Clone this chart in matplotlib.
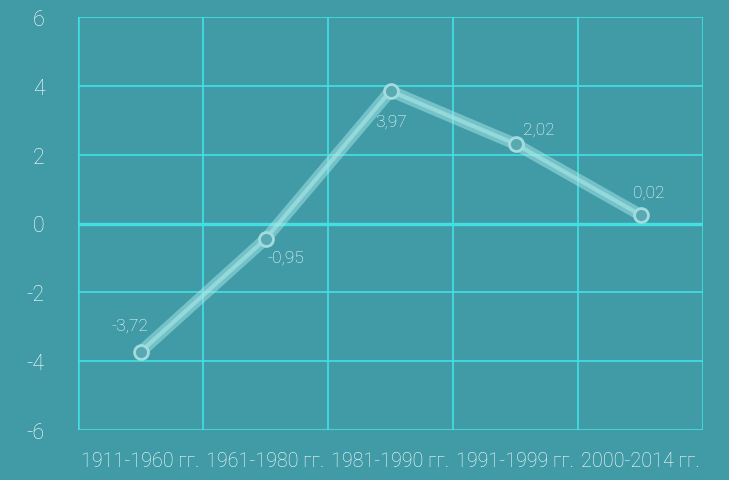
import matplotlib
matplotlib.use("Agg")

import matplotlib.pyplot as plt

# data
periods = ["1911-1960 гг.", "1961-1980 гг.", "1981-1990 гг.",
           "1991-1999 гг.", "2000-2014 гг."]
plotted = [-3.73, -0.45, 3.85, 2.31, 0.25]
labels = ["-3,72", "-0,95", "3,97", "2,02", "0,02"]
yticks = [-6, -4, -2, 0, 2, 4, 6]

BG = "#409ba6"
GRID = "#42e0e3"
TXT = "#ffffff"
LINE = "#a8e8e9"

plt.rcParams["font.family"] = ["Roboto", "DejaVu Sans"]
plt.rcParams["axes.unicode_minus"] = False

fig = plt.figure(figsize=(7.29, 4.81), dpi=100, facecolor=BG)
ax = fig.add_axes([78 / 729, 1 - 431 / 481, 625 / 729, 413 / 481])
ax.set_facecolor(BG)

x = list(range(len(periods)))
ax.set_xlim(-0.5, len(periods) - 0.5)
ax.set_ylim(-6, 6)

# grid
for b in [i - 0.5 for i in range(len(periods) + 1)]:
    ax.axvline(b, color=GRID, lw=1.8 if b == -0.5 else 1.2, zorder=1)
for t in yticks:
    ax.axhline(t, color=GRID, lw=2.4 if t == 0 else 1.2, zorder=1)

# line: wide translucent stroke + thin lighter core
ax.plot(x, plotted, color=LINE, lw=8.5, alpha=0.5, solid_capstyle="round",
        zorder=3)
ax.plot(x, plotted, color=LINE, lw=3, alpha=0.6, zorder=4)
ax.plot(x, plotted, "o", ms=10, mfc="#58a9b1", mec="#a3dcde", mew=2,
        zorder=5)

# label offsets in pixels from each point
offsets = [(-11, 27), (20, -18), (0, -30), (23, 15), (8, 23)]
for xi, yi, lab, (dx, dy) in zip(x, plotted, labels, offsets):
    ax.annotate(lab, (xi, yi), xytext=(dx * 0.72, dy * 0.72),
                textcoords="offset points", ha="center", va="center",
                color=TXT, fontsize=12.5, fontweight="light", zorder=6)

ax.set_xticks(x)
ax.set_xticklabels(periods)
ax.set_yticks(yticks)
ax.tick_params(axis="x", length=0, pad=15, labelsize=14.2, colors=TXT)
ax.tick_params(axis="y", length=0, pad=24, labelsize=15.5, colors=TXT)
for lab in ax.get_xticklabels() + ax.get_yticklabels():
    lab.set_fontweight("light")
for s in ax.spines.values():
    s.set_visible(False)

fig.savefig("out.png", dpi=100, facecolor=BG)
